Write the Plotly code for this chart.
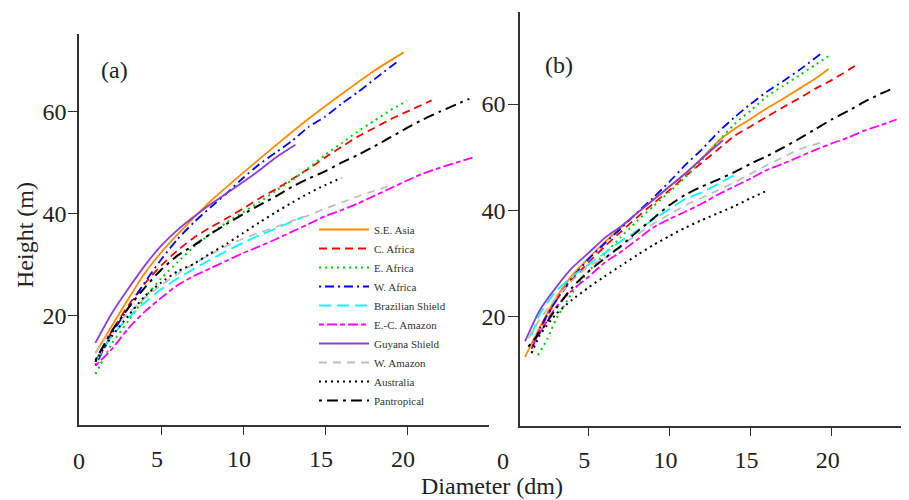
import plotly.graph_objects as go

FONT = "Liberation Serif, Times New Roman, serif"

regions = ["S.E. Asia", "C. Africa", "E. Africa", "W. Africa", "Brazilian Shield",
           "E.-C. Amazon", "Guyana Shield", "W. Amazon", "Australia", "Pantropical"]

# ---------- panel (a) ----------
a_seasia_d = [1, 2, 3, 4, 5, 6, 7, 8, 10, 12, 14, 16, 18, 19.8]
a_seasia_h = [12.7, 18.0, 23.3, 28.3, 32.4, 35.9, 39.2, 42.4, 48.0, 53.4, 58.6, 63.4, 68.0, 71.6]
a_cafrica_d = [1, 2, 3, 4, 5, 6, 7, 8, 9, 10, 11, 12, 13, 14, 15, 16, 17, 18, 19, 20, 21.5]
a_cafrica_h = [11.0, 17.0, 22.0, 26.3, 29.8, 32.8, 35.3, 37.3, 39.1, 41.0, 43.0, 44.8, 46.8,
               48.8, 51.0, 53.1, 55.1, 56.8, 58.5, 60.0, 62.2]
a_eafrica_d = [1, 2, 3, 4, 5, 6, 7, 8, 9, 10, 11, 12, 13, 14, 15, 16, 17, 18, 19, 20]
a_eafrica_h = [8.6, 14.5, 19.0, 23.5, 27.3, 30.5, 33.5, 36.0, 38.3, 40.3, 42.3, 44.5, 46.6,
               49.0, 51.5, 53.8, 56.1, 58.2, 60.3, 62.1]
a_wafrica_d = [1, 2, 3, 4, 5, 6, 7, 8, 9, 10, 11, 12, 13, 14, 15, 16, 17, 18, 19.5]
a_wafrica_h = [10.3, 16.5, 21.5, 26.5, 31.0, 35.0, 38.3, 41.2, 44.0, 47.0, 49.7, 52.0, 54.3,
               57.0, 59.0, 61.5, 63.8, 66.3, 70.0]
a_brazil_d = [1, 2, 3, 4, 5, 6, 7, 8, 9, 10, 11, 12, 13, 13.7]
a_brazil_h = [11.0, 16.0, 19.6, 22.6, 25.2, 27.3, 29.2, 31.0, 32.7, 34.3, 35.8, 37.1, 38.5, 39.4]
a_ecamazon_d = [1, 2, 3, 4, 5, 6, 7, 8, 9, 10, 11, 12, 13, 14, 15, 16, 17, 18, 19, 20, 21, 22, 23, 24]
a_ecamazon_h = [10.2, 13.5, 17.5, 20.8, 23.5, 26.0, 27.8, 29.3, 30.8, 32.3, 33.6, 35.0, 36.5,
                38.0, 39.5, 40.7, 42.0, 43.5, 45.0, 46.5, 47.9, 49.0, 50.0, 51.0]
a_guyana_d = [1, 2, 3, 4, 5, 6, 7, 8, 9, 10, 11, 12, 13.2]
a_guyana_h = [14.7, 20.5, 25.3, 29.8, 33.7, 36.8, 39.4, 41.8, 44.0, 46.2, 48.5, 51.0, 53.5]
a_wamazon_d = [1, 2, 3, 4, 5, 6, 7, 8, 9, 10, 11, 12, 13, 14, 15, 16, 17, 18, 18.8]
a_wamazon_h = [12.7, 17.3, 20.5, 23.4, 26.0, 28.2, 30.2, 32.0, 33.7, 35.1, 36.3, 37.4, 38.6,
               39.7, 41.0, 42.2, 43.4, 44.5, 45.3]
a_austr_d = [1, 2, 3, 4, 5, 6, 7, 8, 9, 10, 11, 12, 13, 14, 15, 16]
a_austr_h = [11.0, 16.0, 20.0, 23.8, 26.5, 28.7, 30.2, 32.2, 34.1, 36.2, 38.3, 40.3, 42.2, 44.0, 45.6, 47.0]
a_pantrop_d = [1, 2, 3, 4, 5, 6, 7, 8, 9, 10, 11, 12, 13, 14, 15, 16, 17, 18, 19, 20, 21, 22, 23, 23.8]
a_pantrop_h = [11.3, 17.0, 21.5, 25.5, 29.0, 31.8, 33.8, 36.0, 38.0, 39.9, 41.7, 43.4, 45.3,
               46.9, 48.3, 50.0, 51.5, 53.2, 55.0, 56.8, 58.5, 60.0, 61.4, 62.5]

# ---------- panel (b) ----------
b_seasia_d = [1.1, 2, 3, 4, 5, 6, 7, 8, 9, 10, 11, 12, 13, 14, 15, 16, 17, 18, 19, 19.8]
b_seasia_h = [12.5, 18.0, 23.5, 27.8, 31.0, 34.0, 36.8, 39.5, 42.0, 44.5, 47.0, 49.8, 53.0,
              55.3, 57.2, 59.2, 61.0, 62.9, 64.8, 66.6]
b_cafrica_d = [1.5, 2, 3, 4, 5, 6, 7, 8, 9, 10, 11, 12, 13, 14, 15, 16, 17, 18, 19, 20, 21.6]
b_cafrica_h = [14.0, 17.5, 23.0, 27.0, 30.2, 33.2, 36.0, 38.7, 41.3, 43.8, 46.5, 49.0, 51.5,
               54.0, 55.8, 57.6, 59.4, 61.1, 62.9, 64.5, 67.5]
b_eafrica_d = [1.9, 2.5, 3, 4, 5, 6, 7, 8, 9, 10, 11, 12, 13, 14, 15, 16, 17, 18, 19, 20]
b_eafrica_h = [12.8, 16.0, 19.5, 24.5, 28.5, 31.8, 35.0, 38.0, 40.8, 43.5, 46.3, 49.5, 53.0,
               56.2, 58.8, 61.4, 63.4, 65.4, 67.4, 69.4]
b_wafrica_d = [1.6, 2, 3, 4, 5, 6, 7, 8, 9, 10, 11, 12, 13, 14, 15, 16, 17, 18, 19.3]
b_wafrica_h = [14.5, 17.8, 23.0, 27.3, 30.8, 33.8, 36.6, 39.6, 42.4, 45.4, 48.6, 51.5, 54.7,
               57.5, 60.0, 62.3, 64.3, 66.4, 69.4]
b_brazil_d = [1.5, 2, 3, 4, 5, 6, 7, 8, 9, 10, 11, 12, 13, 14.1]
b_brazil_h = [16.5, 20.5, 24.8, 27.6, 29.8, 32.0, 34.2, 36.2, 38.3, 40.3, 42.2, 43.4, 45.0, 46.8]
b_ecamazon_d = [1.6, 2, 3, 4, 5, 6, 7, 8, 9, 10, 11, 12, 13, 14, 15, 16, 17, 18, 19, 20, 21, 22, 23, 24]
b_ecamazon_h = [15.0, 17.0, 21.8, 25.0, 27.5, 30.2, 32.2, 34.5, 36.8, 38.4, 39.8, 41.3, 43.0,
                44.5, 46.0, 47.6, 48.8, 50.1, 51.4, 52.6, 53.7, 55.0, 56.0, 57.1]
b_guyana_d = [1.1, 2, 3, 4, 5, 6, 7, 8, 9, 10, 11, 12, 13.3]
b_guyana_h = [15.4, 21.2, 25.5, 29.2, 32.0, 34.8, 37.0, 39.5, 42.0, 44.5, 47.0, 49.8, 53.2]
b_wamazon_d = [1.3, 2, 3, 4, 5, 6, 7, 8, 9, 10, 11, 12, 13, 14, 15, 16, 17, 18, 19.3]
b_wamazon_h = [16.0, 19.5, 23.5, 26.8, 29.5, 31.0, 33.2, 35.5, 37.5, 39.3, 41.0, 42.4, 43.8,
               45.3, 46.9, 48.5, 50.0, 51.5, 52.7]
b_austr_d = [1.5, 2, 3, 4, 5, 6, 7, 8, 9, 10, 11, 12, 13, 14, 15, 16]
b_austr_h = [13.2, 16.5, 20.5, 23.2, 25.5, 27.6, 29.6, 31.6, 33.5, 35.2, 36.8, 38.2, 39.5, 40.8, 42.3, 43.7]
b_pantrop_d = [1.3, 2, 3, 4, 5, 6, 7, 8, 9, 10, 11, 12, 13, 14, 15, 16, 17, 18, 19, 20, 21, 22, 23, 23.6]
b_pantrop_h = [14.4, 17.0, 21.5, 25.5, 28.5, 31.0, 33.3, 36.0, 38.5, 41.0, 43.0, 44.5, 45.8,
               47.2, 48.8, 50.2, 51.8, 53.5, 55.3, 57.1, 58.7, 60.4, 61.9, 62.7]

x_tick_vals = [5, 10, 15, 20]
y_tick_vals = [20, 40, 60]

panel_a = [(a_seasia_d, a_seasia_h), (a_cafrica_d, a_cafrica_h), (a_eafrica_d, a_eafrica_h),
           (a_wafrica_d, a_wafrica_h), (a_brazil_d, a_brazil_h), (a_ecamazon_d, a_ecamazon_h),
           (a_guyana_d, a_guyana_h), (a_wamazon_d, a_wamazon_h), (a_austr_d, a_austr_h),
           (a_pantrop_d, a_pantrop_h)]
panel_b = [(b_seasia_d, b_seasia_h), (b_cafrica_d, b_cafrica_h), (b_eafrica_d, b_eafrica_h),
           (b_wafrica_d, b_wafrica_h), (b_brazil_d, b_brazil_h), (b_ecamazon_d, b_ecamazon_h),
           (b_guyana_d, b_guyana_h), (b_wamazon_d, b_wamazon_h), (b_austr_d, b_austr_h),
           (b_pantrop_d, b_pantrop_h)]

styles = [
    dict(color="#ff8c00", dash="solid", width=1.8, shape="spline", smoothing=0.6),
    dict(color="#ff0000", dash="8px,5px", width=1.8, shape="spline", smoothing=0.6),
    dict(color="#00cc00", dash="2px,4px", width=2, shape="spline", smoothing=0.6),
    dict(color="#0000ff", dash="2px,4px,9px,4px", width=1.8, shape="spline", smoothing=0.6),
    dict(color="#00ffff", dash="12px,6px", width=1.8, shape="spline", smoothing=0.6),
    dict(color="#ff00ff", dash="5px,3px,10px,3px", width=1.8, shape="spline", smoothing=0.6),
    dict(color="#8a3fd6", dash="solid", width=1.8, shape="spline", smoothing=0.6),
    dict(color="#bebebe", dash="8px,6px", width=1.8, shape="spline", smoothing=0.6),
    dict(color="#000000", dash="2px,4px", width=2, shape="spline", smoothing=0.6),
    dict(color="#000000", dash="3px,5px,11px,5px", width=2, shape="spline", smoothing=0.6),
]

fig = go.Figure()
for name, (d, h), st in zip(regions, panel_a, styles):
    fig.add_trace(go.Scatter(x=d, y=h, mode="lines", name=name, line=st,
                             xaxis="x", yaxis="y", showlegend=True))
for name, (d, h), st in zip(regions, panel_b, styles):
    fig.add_trace(go.Scatter(x=d, y=h, mode="lines", name=name, line=st,
                             xaxis="x2", yaxis="y2", showlegend=False))

# The page body adds an 8px margin, so the figure is 8px smaller and all
# layout positions below are given in figure pixels (page pixels minus 8).
W, H = 901, 492
TXT = "#222222"
axis_common = dict(showgrid=False, zeroline=False, showline=True, linecolor="#333333",
                   linewidth=1.5, ticks="outside", tickcolor="#333333", tickwidth=1.3,
                   tickfont=dict(family=FONT, size=24, color=TXT))

fig.update_layout(
    width=W, height=H,
    margin=dict(l=0, r=0, t=0, b=0),
    paper_bgcolor="white", plot_bgcolor="white",
    font=dict(family=FONT, color=TXT),
    xaxis=dict(domain=[71/W, 481/W], range=[0, 25], tickvals=x_tick_vals,
               ticklen=8, ticklabelstandoff=3, ticklabelshift=-4, anchor="y", **axis_common),
    yaxis=dict(domain=[1 - 417/H, 1 - 26/H], range=[-1.37, 75.2], tickvals=y_tick_vals,
               ticklen=9, ticklabelstandoff=-3, anchor="x", **axis_common),
    xaxis2=dict(domain=[512/W, 1.0], range=[0.79, 24.76], tickvals=x_tick_vals,
                ticklen=8, ticklabelstandoff=3, ticklabelshift=-4, anchor="y2", **axis_common),
    yaxis2=dict(domain=[1 - 418/H, 1 - 4/H], range=[-0.5, 77.3], tickvals=y_tick_vals,
                ticklen=10, ticklabelstandoff=-2, anchor="x2", **axis_common),
    legend=dict(x=306/W, y=1 - 207/H, xanchor="left", yanchor="top",
                bgcolor="rgba(0,0,0,0)", font=dict(family=FONT, size=11, color="#333333"),
                itemwidth=50, tracegroupgap=0),
    showlegend=True,
)

def ann(text, x, y, **kw):
    return dict(text=text, x=x, y=y, xref="paper", yref="paper", showarrow=False,
                xanchor="center", yanchor="middle",
                font=dict(family=FONT, size=24, color=TXT), **kw)

annotations = [
    ann("(a)", 106/W, 1 - 62/H),
    ann("(b)", 551/W, 1 - 57/H),
    ann("Height (m)", 17/W, 1 - 227/H, textangle=-90),
    ann("Diameter (dm)", 484/W, 1 - 478/H),
    ann("0", 71/W, 1 - 453/H),
    ann("0", 495/W, 1 - 453/H),
]
fig.update_layout(annotations=annotations)

fig.write_html("out.html")
